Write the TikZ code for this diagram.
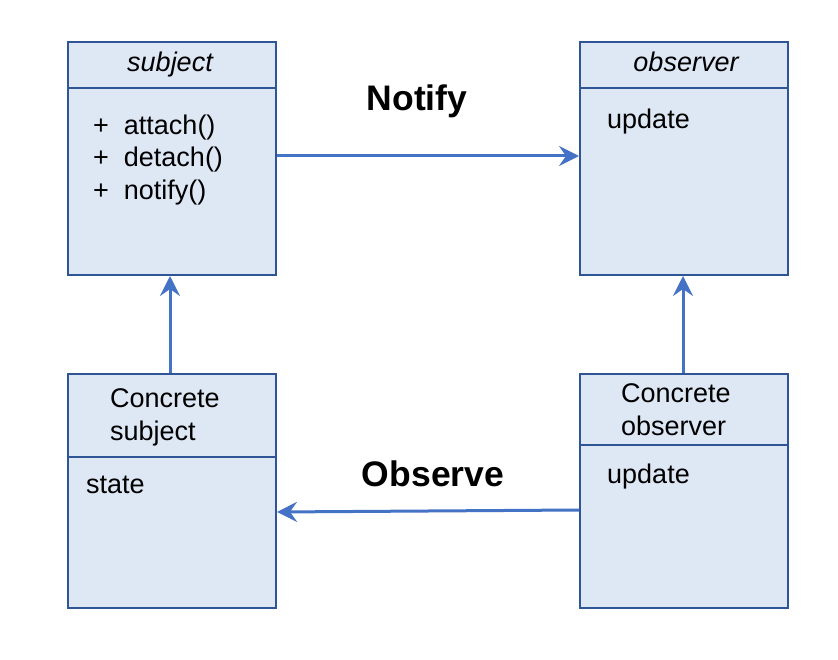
\documentclass[tikz,border=0pt]{standalone}
\usepackage{fontspec}
\setmainfont{Liberation Sans}
\usetikzlibrary{arrows.meta}
\definecolor{boxfill}{HTML}{DEE8F5}
\definecolor{boxline}{HTML}{2F5597}
\definecolor{arrowc}{HTML}{4472C4}
\tikzset{
  classbox/.style={draw=boxline, fill=boxfill, line width=2pt, minimum width=208pt, minimum height=233pt, inner sep=0pt, anchor=north west},
  divider/.style={draw=boxline, line width=1.5pt},
  body/.style={anchor=base west, inner sep=0pt, font=\fontsize{27}{32}\selectfont},
  title/.style={anchor=base, inner sep=0pt, font=\fontsize{27}{32}\selectfont\itshape},
  biglabel/.style={anchor=base, inner sep=0pt, font=\fontsize{35.5}{42}\selectfont\bfseries},
  conn/.style={draw=arrowc, line width=3pt, -{Stealth[length=20pt, width=20pt, inset=7pt]}}
}
\begin{document}
\begin{tikzpicture}[x=1pt, y=-1pt]
\useasboundingbox[fill=white] (0,0) rectangle (838,660);
% boxes
\node[classbox] (subj) at (67,41) {};
\node[classbox] (obs) at (579,41) {};
\node[classbox, minimum height=234pt] (csubj) at (67,373) {};
\node[classbox, minimum height=234pt] (cobs) at (579,373) {};
% dividers
\draw[divider] (67,88) -- (275,88);
\draw[divider] (579,88) -- (789,88);
\draw[divider] (67,457) -- (276,457);
\draw[divider] (579,445) -- (787,445);
% texts
\node[title] (t1) at (170,72) {subject};
\node[body] (a1) at (93,135) {+\ \ attach()};
\node[body] (a2) at (93,167) {+\ \ detach()};
\node[body] (a3) at (93,200) {+\ \ notify()};
\node[title] (t2) at (686,72) {observer};
\node[body] (u1) at (607,129) {update};
\node[body] (c1) at (110,407) {Concrete};
\node[body] (c2) at (110,440) {subject};
\node[body] (s1) at (86,493) {state};
\node[body] (c3) at (621,402) {Concrete};
\node[body] (c4) at (621,435) {observer};
\node[body] (u2) at (607,483) {update};
\node[biglabel] (notify) at (417,111) {Notify};
\node[biglabel] (observe) at (433,486) {Observe};
% connector end points
\coordinate (n1) at (subj.east |- 0,156);
\coordinate (n2) at (obs.west |- 0,156);
\coordinate (o1) at (cobs.west |- 0,510);
\coordinate (o2) at (csubj.east |- 0,512);
\coordinate (v1) at (170,0);
\coordinate (v2) at (683,0);
% connectors
\draw[conn] (n1) -- (n2);
\draw[conn] (o1) -- (o2);
\draw[conn] (v1 |- csubj.north) -- (v1 |- subj.south);
\draw[conn] (v2 |- cobs.north) -- (v2 |- obs.south);
\end{tikzpicture}
\end{document}
